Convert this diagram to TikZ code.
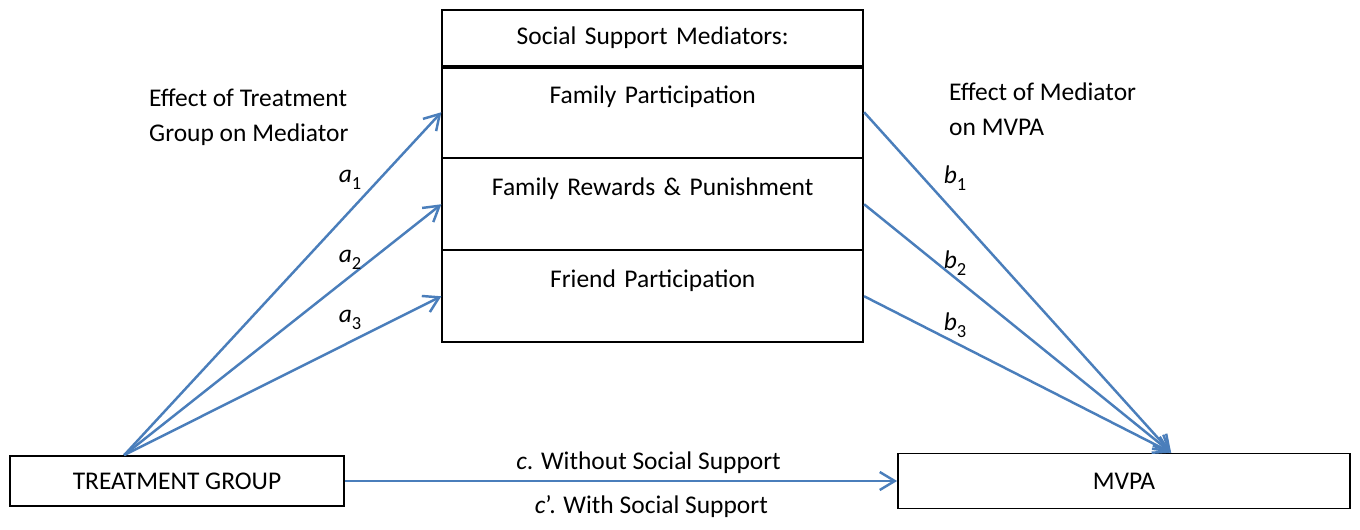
\documentclass[tikz,border=0pt]{standalone}
\usepackage{fontspec}
\setmainfont{Carlito}
\usepackage{xcolor}
\usetikzlibrary{arrows.meta,matrix,positioning}

\definecolor{linkblue}{HTML}{4A7EBB}

\newcommand{\coefsub}[2]{\textit{#1}\raisebox{-0.55ex}{\fontsize{10.5}{12}\selectfont #2}}

\begin{document}
\begin{tikzpicture}[font=\fontsize{14.5}{19.8}\selectfont,
    box/.style={draw, line width=1pt, inner sep=0pt, align=center},
    link/.style={linkblue, line width=1.4pt,
      -{Straight Barb[length=0.3cm, width=0.36cm, line width=1.4pt]}},
    coef/.style={inner sep=0pt}]
  \useasboundingbox (0,0) rectangle (27.2,10.58);

  % mediator stack
  \matrix (m) [matrix of nodes, anchor=north west, inner sep=0pt, row sep=-1pt,
    nodes={draw, line width=1pt, text width=8.42cm, align=center,
      inner sep=0pt, text height=0.74cm, text depth=1.1cm},
    row 1/.style={nodes={text height=0.68cm, text depth=0.44cm}},
    ] at (8.82,10.40)
    {
      Social Support Mediators:\\
      Family Participation\\
      Family Rewards \& Punishment\\
      Friend Participation\\
    };
  \draw[line width=2pt] (m-1-1.south west) -- (m-1-1.south east);

  \node[box, minimum width=6.68cm, minimum height=1.0cm] (tg) at (3.54,0.96) {TREATMENT GROUP};
  \node[box, minimum width=9.04cm, minimum height=1.1cm] (mv) at (22.48,0.96) {MVPA};

  \coordinate (tgtop) at ([xshift=2.3cm]tg.north west);
  \coordinate (mvtop) at ([xshift=5.48cm]mv.north west);

  % paths a_i and b_i
  \foreach \r in {2,3,4}{
    \draw[link] (tgtop) -- (m-\r-1.west);
    \draw[link] (m-\r-1.east) -- (mvtop);
  }
  \draw[link] (tg.east) -- (tg.east -| mv.west)
    node[pos=0.55, above=0pt, text=black] (cwo) {\textit{c}. Without Social Support}
    node[pos=0.555, below=4pt, text=black] (cw) {\textit{c}’. With Social Support};

  % labels
  \node[align=left, anchor=west] (efa) at (2.86,8.23) {Effect of Treatment\\Group on Mediator};
  \node[align=left, anchor=west] (efb) at (18.86,8.40) {Effect of Mediator\\on MVPA};

  \node[coef] (a1) at (7.0,6.98) {\coefsub{a}{1}};
  \node[coef] (a2) at (7.0,5.38) {\coefsub{a}{2}};
  \node[coef] (a3) at (7.0,4.18) {\coefsub{a}{3}};
  \node[coef] (b1) at (19.1,7.02) {\coefsub{b}{1}};
  \node[coef] (b2) at (19.1,5.32) {\coefsub{b}{2}};
  \node[coef] (b3) at (19.1,4.08) {\coefsub{b}{3}};
\end{tikzpicture}
\end{document}
